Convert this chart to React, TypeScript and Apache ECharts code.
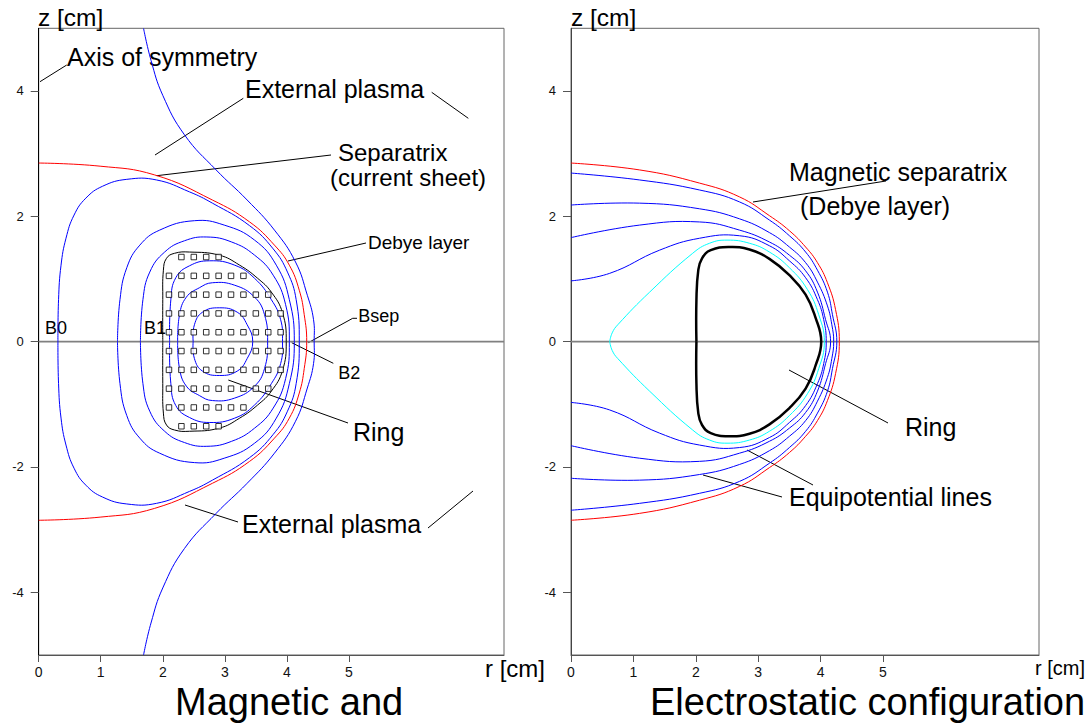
import React, { useEffect, useRef } from 'react';
import * as echarts from 'echarts';

type P = [number, number];

// ---------- Left panel: magnetic configuration (upper halves, r [cm], z [cm]) ----------
const magSeparatrix: P[] = [[0, 2.85], [0.99, 2.8], [1.87, 2.66], [2.8, 2.26], [3.4, 1.91], [3.8, 1.54], [4.04, 1.22], [4.2, 0.82], [4.28, 0.43], [4.32, 0]];
const magOuterLine: P[] = [[1.69, 5.0], [1.81, 4.49], [2.0, 3.93], [2.35, 3.3], [2.86, 2.74], [3.36, 2.26], [3.8, 1.78], [4.14, 1.27], [4.33, 0.74], [4.43, 0.35], [4.44, 0]];
const magContour1: P[] = [[0.31, 0], [0.32, 0.67], [0.36, 1.22], [0.44, 1.65], [0.57, 2.02], [0.76, 2.29], [1.03, 2.48], [1.42, 2.59], [1.9, 2.58], [2.43, 2.39], [2.8, 2.21], [3.4, 1.85], [3.78, 1.48], [4.01, 1.11], [4.15, 0.67], [4.2, 0]];
const magContour2: P[] = [[1.27, 0], [1.31, 0.67], [1.42, 1.18], [1.63, 1.54], [1.95, 1.78], [2.51, 1.93], [2.99, 1.86], [3.48, 1.62], [3.83, 1.22], [4.04, 0.67], [4.12, 0]];
const magContour3: P[] = [[1.64, 0], [1.68, 0.67], [1.79, 1.11], [2.03, 1.43], [2.35, 1.61], [2.71, 1.67], [3.11, 1.59], [3.48, 1.38], [3.78, 1.06], [3.98, 0.59], [4.04, 0]];
const magRing: P[] = [[2.0, 0], [2.0, 0.67], [2.01, 1.14], [2.06, 1.33], [2.19, 1.41], [2.43, 1.43], [2.91, 1.38], [3.24, 1.22], [3.53, 1.01], [3.75, 0.79], [3.93, 0.46], [3.99, 0]];
const magContour5: P[] = [[2.11, 0], [2.13, 0.67], [2.21, 1.02], [2.43, 1.21], [2.75, 1.29], [3.16, 1.22], [3.48, 1.01], [3.75, 0.67], [3.9, 0.35], [3.93, 0]];
const magContour4: P[] = [[2.24, 0], [2.27, 0.43], [2.38, 0.71], [2.59, 0.86], [2.8, 0.94], [3.16, 0.9], [3.48, 0.71], [3.64, 0.43], [3.69, 0]];
const magContour6: P[] = [[2.49, 0], [2.51, 0.27], [2.64, 0.47], [2.91, 0.54], [3.2, 0.47], [3.36, 0.27], [3.45, 0]];

// current-carrying cells of the ring: [z, r positions]
const ringCells: [number, number[]][] = [
  [1.35, [2.3, 2.5, 2.7, 2.9]],
  [1.05, [2.1, 2.3, 2.5, 2.7, 2.9, 3.1, 3.3]],
  [0.75, [2.1, 2.3, 2.5, 2.7, 2.9, 3.1, 3.3, 3.5, 3.7]],
  [0.45, [2.1, 2.3, 2.5, 2.7, 2.9, 3.1, 3.3, 3.5, 3.7, 3.9]],
  [0.15, [2.1, 2.3, 2.5, 2.7, 2.9, 3.1, 3.3, 3.5, 3.7, 3.9]],
  [-0.15, [2.1, 2.3, 2.5, 2.7, 2.9, 3.1, 3.3, 3.5, 3.7, 3.9]],
  [-0.45, [2.1, 2.3, 2.5, 2.7, 2.9, 3.1, 3.3, 3.5, 3.7, 3.9]],
  [-0.75, [2.1, 2.3, 2.5, 2.7, 2.9, 3.1, 3.3, 3.5, 3.7]],
  [-1.05, [2.1, 2.3, 2.5, 2.7, 2.9, 3.1, 3.3]],
  [-1.35, [2.3, 2.5, 2.7, 2.9]],
];

// ---------- Right panel: electrostatic configuration (upper halves) ----------
const esSeparatrix: P[] = [[0, 2.85], [1.1, 2.74], [2.06, 2.53], [2.7, 2.31], [3.18, 2.01], [3.5, 1.77], [3.76, 1.51], [3.95, 1.26], [4.11, 0.94], [4.24, 0.51], [4.3, 0]];
const esEquip1: P[] = [[0, 2.69], [1.1, 2.58], [2.06, 2.42], [2.7, 2.23], [3.18, 1.94], [3.5, 1.69], [3.76, 1.43], [3.95, 1.14], [4.11, 0.79], [4.19, 0.43], [4.26, 0]];
const esEquip2: P[] = [[0, 2.18], [1.1, 2.21], [2.06, 2.12], [2.7, 1.96], [3.18, 1.74], [3.5, 1.51], [3.76, 1.26], [3.95, 0.95], [4.11, 0.57], [4.18, 0.27], [4.21, 0]];
const esEquip3: P[] = [[0, 1.66], [1.1, 1.86], [2.06, 1.91], [2.7, 1.78], [3.18, 1.59], [3.5, 1.38], [3.76, 1.13], [3.95, 0.79], [4.08, 0.35], [4.16, 0]];
const esEquip4: P[] = [[0, 0.97], [0.62, 1.09], [1.42, 1.46], [2.06, 1.65], [2.7, 1.69], [3.18, 1.53], [3.5, 1.29], [3.76, 1.02], [3.95, 0.67], [4.05, 0.35], [4.09, 0]];
const esCyan: P[] = [[0.62, 0], [0.66, 0.14], [0.75, 0.27], [1.26, 0.79], [1.95, 1.41], [2.22, 1.57], [2.5, 1.62], [2.86, 1.57], [3.18, 1.43], [3.5, 1.18], [3.79, 0.83], [3.97, 0.43], [4.06, 0]];
const esRing: P[] = [[2.01, 0], [2.01, 0.67], [2.04, 1.14], [2.1, 1.33], [2.24, 1.46], [2.54, 1.51], [2.86, 1.47], [3.18, 1.32], [3.5, 1.06], [3.76, 0.75], [3.92, 0.38], [4.01, 0]];

// ---------- axes ----------
const rRange: P = [0, 7.5];
const zRange: P = [-5, 5];
const rTicks = [0, 1, 2, 3, 4, 5];
const zTicks = [-4, -2, 0, 2, 4];

const FONT = '"Liberation Sans", Arial, Helvetica, sans-serif';

function mirror(upper: P[]): P[] {
  const lower = upper.slice(0, -1).reverse().map(([r, z]) => [r, -z] as P);
  return [...upper, ...lower];
}

// smooth curve drawn through the axes' scales (api.coord)
function curve(upper: P[], idx: number, color: string, width = 1): any {
  const data = mirror(upper);
  return {
    type: 'custom',
    xAxisIndex: idx,
    yAxisIndex: idx,
    data,
    silent: true,
    clip: true,
    encode: { x: 0, y: 1 },
    renderItem: (params: any, api: any) => {
      if (params.dataIndex !== 0) return null;
      const pts = data.map((d) => api.coord(d));
      return {
        type: 'polyline',
        shape: { points: pts, smooth: 0.45 },
        style: { stroke: color, lineWidth: width, fill: 'none' },
      };
    },
  };
}

function txt(x: number, y: number, text: string, size: number): any {
  return {
    type: 'text',
    x,
    y,
    silent: true,
    style: {
      text,
      fill: '#000',
      font: `${size}px ${FONT}`,
      fontSize: size,
      fontFamily: FONT,
      textAlign: 'left',
      align: 'left',
      textVerticalAlign: 'middle',
      verticalAlign: 'middle',
    },
  };
}

function seg(pts: P[]): any {
  return {
    type: 'polyline',
    silent: true,
    shape: { points: pts },
    style: { stroke: '#000', lineWidth: 1, fill: 'none' },
  };
}

function axes(gi: number) {
  const x = {
    type: 'value',
    gridIndex: gi,
    min: rRange[0],
    max: rRange[1],
    axisLine: { show: true, onZero: false, lineStyle: { color: '#555', width: 1 } },
    axisTick: { show: true, customValues: rTicks, length: 7, lineStyle: { color: '#555' } },
    axisLabel: { show: true, customValues: rTicks, fontSize: 14, color: '#111', margin: 10, fontFamily: FONT },
    splitLine: { show: false },
  };
  const y = {
    type: 'value',
    gridIndex: gi,
    min: zRange[0],
    max: zRange[1],
    axisLine: { show: true, onZero: false, lineStyle: { color: gi === 0 ? '#000' : '#444', width: 1 } },
    axisTick: { show: true, customValues: zTicks, length: 8, lineStyle: { color: '#555' } },
    axisLabel: { show: true, customValues: zTicks, fontSize: 13, color: '#111', margin: 15, fontFamily: FONT },
    splitLine: { show: false },
  };
  return { x, y };
}

export default function App() {
  const ref = useRef<HTMLDivElement>(null);
  useEffect(() => {
    if (!ref.current) return;
    const chart = echarts.init(ref.current, undefined, { renderer: 'svg' });
    const a0 = axes(0);
    const a1 = axes(1);

    const cells: P[] = [];
    ringCells.forEach(([z, rs]) => rs.forEach((r) => cells.push([r, z])));

    const zeroLine = (idx: number) => ({
      type: 'line',
      xAxisIndex: idx,
      yAxisIndex: idx,
      data: [[rRange[0], 0], [rRange[1], 0]],
      symbol: 'none',
      silent: true,
      lineStyle: { color: '#808080', width: 1.6 },
      z: 1,
    });

    const option: any = {
      animation: false,
      backgroundColor: '#fff',
      grid: [
        { left: 38.7, top: 28.3, width: 465.3, height: 626.7, show: true, borderColor: '#666', borderWidth: 1, outerBoundsMode: 'none', containLabel: false },
        { left: 571, top: 28.3, width: 468, height: 626.7, show: true, borderColor: '#666', borderWidth: 1, outerBoundsMode: 'none', containLabel: false },
      ],
      xAxis: [a0.x, a1.x],
      yAxis: [a0.y, a1.y],
      series: [
        zeroLine(0),
        zeroLine(1),
        curve(magOuterLine, 0, '#0000ff'),
        curve(magContour1, 0, '#0000ff'),
        curve(magContour2, 0, '#0000ff'),
        curve(magContour3, 0, '#0000ff'),
        curve(magContour5, 0, '#0000ff'),
        curve(magContour4, 0, '#0000ff'),
        curve(magContour6, 0, '#0000ff'),
        curve(magRing, 0, '#000000'),
        curve(magSeparatrix, 0, '#ff0000'),
        {
          type: 'scatter',
          xAxisIndex: 0,
          yAxisIndex: 0,
          data: cells,
          symbol: 'rect',
          symbolSize: 5.5,
          silent: true,
          itemStyle: { color: '#fff', borderColor: '#000', borderWidth: 1 },
          z: 5,
        },
        curve(esEquip1, 1, '#0000ff'),
        curve(esEquip2, 1, '#0000ff'),
        curve(esEquip3, 1, '#0000ff'),
        curve(esEquip4, 1, '#0000ff'),
        curve(esCyan, 1, '#00ffff'),
        curve(esRing, 1, '#000000', 2.5),
        curve(esSeparatrix, 1, '#ff0000'),
      ],
      graphic: [
        // axis titles
        txt(38, 17.5, 'z [cm]', 24.5),
        txt(571, 17.5, 'z [cm]', 24.5),
        txt(485, 668, 'r [cm]', 24),
        txt(1035, 668, 'r [cm]', 20),
        // panel titles
        txt(175, 702, 'Magnetic and', 38),
        txt(650, 702, 'Electrostatic configuration', 38),
        // left panel annotations
        txt(67, 57, 'Axis of symmetry', 25),
        seg([[40, 81.7], [66.7, 65]]),
        txt(245, 89, 'External plasma', 25),
        seg([[155, 155], [243.3, 98.3]]),
        seg([[431.7, 92.3], [468.3, 118.3]]),
        txt(338, 152, 'Separatrix', 24),
        txt(330, 177, '(current sheet)', 24),
        seg([[156.7, 175.7], [331, 155]]),
        txt(368, 242, 'Debye layer', 19),
        seg([[288, 261], [366, 243]]),
        txt(45, 328, 'B0', 18),
        txt(144, 328, 'B1', 18),
        txt(358.3, 316, 'Bsep', 18),
        seg([[308.3, 342.7], [352.7, 318.3], [357, 318.3]]),
        txt(338.3, 373, 'B2', 18),
        seg([[291.7, 342.7], [333.3, 363.3]]),
        txt(353, 432, 'Ring', 25),
        seg([[228.3, 380], [348, 423]]),
        txt(242, 524, 'External plasma', 25),
        seg([[185, 505], [238, 522]]),
        seg([[428, 528], [473, 491]]),
        // right panel annotations
        txt(789, 172, 'Magnetic separatrix', 25),
        txt(800, 206, '(Debye layer)', 25),
        seg([[753, 202], [886, 181]]),
        txt(905, 427, 'Ring', 25),
        seg([[789, 370], [888, 423]]),
        txt(789, 497, 'Equipotential lines', 25),
        seg([[747, 450], [813, 485]]),
        seg([[703, 475], [782, 497]]),
      ],
    };
    chart.setOption(option);
    return () => chart.dispose();
  }, []);
  return (
    <div
      ref={ref}
      style={{ position: 'fixed', left: 0, top: 0, width: 1089, height: 723, background: '#fff' }}
    />
  );
}
